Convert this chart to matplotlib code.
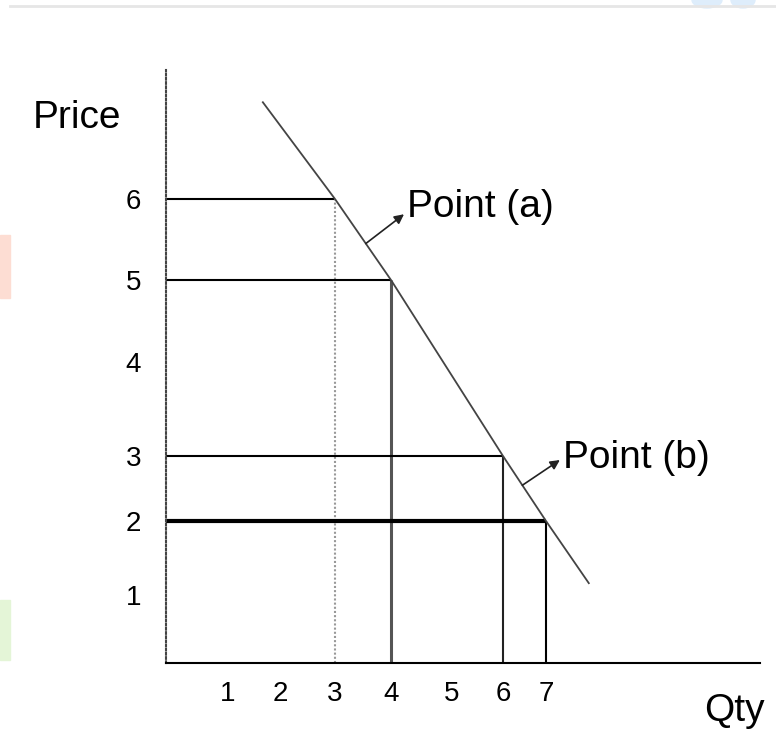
import numpy as np
import matplotlib.pyplot as plt
from matplotlib.patches import Rectangle, Ellipse

plt.rcParams['font.family'] = ['Liberation Sans', 'DejaVu Sans']

# demand schedule (qty, price) and the end points of the demand curve
qty = [3, 4, 6, 7]
price = [6, 5, 3, 2]
curve_qty = [1.67, 3, 4, 6, 7, 7.2]
curve_price = [6.75, 6, 5, 3, 2, 1.16]

qty_ticks = [1, 2, 3, 4, 5, 6, 7]
price_ticks = [1, 2, 3, 4, 5, 6]

# the sketch is not drawn to scale: piecewise-linear axis spacing
x_knots = [0, 1, 2, 3, 4, 5, 6, 7, 8]
x_pos = [0, 62, 114, 169, 225, 286, 337, 380, 594]
y_knots = [0, 1, 2, 3, 4, 5, 6, 7]
y_pos = [0, 68, 142, 207, 301, 383, 464, 593]


def fwd_x(v):
    return np.interp(v, x_knots, x_pos)


def inv_x(v):
    return np.interp(v, x_pos, x_knots)


def fwd_y(v):
    return np.interp(v, y_knots, y_pos)


def inv_y(v):
    return np.interp(v, y_pos, y_knots)


W, H = 776, 738
fig = plt.figure(figsize=(W / 100, H / 100), dpi=100)
ax = fig.add_axes([166 / W, 1 - 663 / H, 594 / W, 593 / H])
ax.set_xscale('function', functions=(fwd_x, inv_x))
ax.set_yscale('function', functions=(fwd_y, inv_y))
ax.set_xlim(0, 8)
ax.set_ylim(0, 7)

# page decorations
fig.add_artist(plt.Line2D([10 / W, 1], [1 - 6 / H, 1 - 6 / H], color='#e6e6e6', lw=2))
fig.patches.append(Rectangle((0, 1 - 298 / H), 10 / W, 63 / H, transform=fig.transFigure,
                             color='#fdddd3', zorder=0))
fig.patches.append(Rectangle((0, 1 - 660 / H), 10 / W, 60 / H, transform=fig.transFigure,
                             color='#e4f5d7', zorder=0))
for cx, w in [(707, 30), (743, 24)]:
    fig.patches.append(Ellipse((cx / W, 1), w / W, 16 / H, transform=fig.transFigure,
                               color='#deedfb', zorder=0))

# drop lines from the curve to both axes
h_styles = [dict(color='black', lw=1.5), dict(color='black', lw=1.5),
            dict(color='black', lw=1.5), dict(color='black', lw=3)]
v_styles = [dict(color='#999999', lw=1.5, ls=(0, (1, 1))), dict(color='#555555', lw=2.2),
            dict(color='#222222', lw=1.5), dict(color='black', lw=1.5)]
for q, p, hs, vs in zip(qty, price, h_styles, v_styles):
    ax.plot([0, q], [p, p], solid_capstyle='butt', **hs)
    ax.plot([q, q], [0, p], solid_capstyle='butt', **vs)

ax.plot(curve_qty, curve_price, color='#444444', lw=1.3)

arrow = dict(arrowstyle='<|-', color='#222222', lw=1.2, shrinkA=0, shrinkB=0,
             mutation_scale=14)
ax.annotate('Point (a)', xy=(3.55, 5.45), xytext=(29.5, 26), textcoords='offset points',
            ha='left', va='center', fontsize=28,
            arrowprops=dict(relpos=(0, 0.37), **arrow))
ax.annotate('Point (b)', xy=(6.45, 2.55), xytext=(29, 19.5), textcoords='offset points',
            ha='left', va='center', fontsize=28,
            arrowprops=dict(relpos=(0, 0.5), **arrow))

for s in ['top', 'right']:
    ax.spines[s].set_visible(False)
ax.spines['left'].set_linestyle((0, (0.8, 1.2)))
ax.spines['left'].set_color('#444444')
ax.spines['left'].set_linewidth(1.5)
ax.spines['bottom'].set_color('black')
ax.spines['bottom'].set_linewidth(1.5)

ax.set_xticks(qty_ticks)
ax.set_xticklabels([str(t) for t in qty_ticks])
ax.set_yticks(price_ticks)
ax.set_yticklabels([str(t) for t in price_ticks])
ax.minorticks_off()
ax.tick_params(axis='x', length=0, pad=13, labelsize=20)
ax.tick_params(axis='y', length=0, pad=18, labelsize=20)

fig.text(77 / W, 1 - 118 / H, 'Price', ha='center', va='center', fontsize=28)
fig.text(734 / W, 1 - 711 / H, 'Qty', ha='center', va='center', fontsize=28)

fig.savefig('out.png', dpi=100)
